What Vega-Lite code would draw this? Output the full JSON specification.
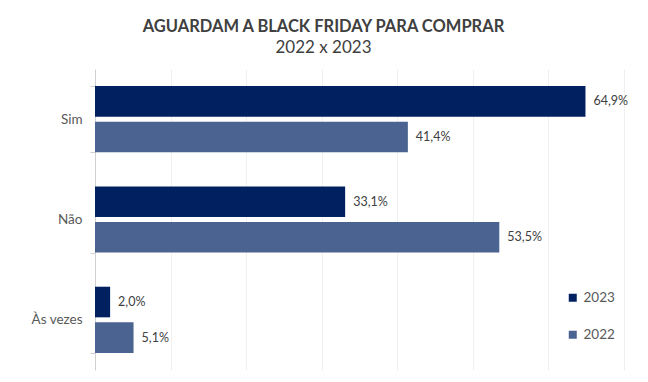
{
  "$schema": "https://vega.github.io/schema/vega-lite/v6.json",
  "autosize": {"type": "none"},
  "width": 529,
  "height": 301,
  "padding": {"left": 95, "top": 69, "right": 24, "bottom": 12},
  "background": "white",
  "title": {
    "text": "AGUARDAM A BLACK FRIDAY PARA COMPRAR",
    "subtitle": "2022 x 2023",
    "anchor": "middle",
    "dx": -36,
    "offset": 6,
    "font": "Lato",
    "fontSize": 16.5,
    "fontWeight": "bold",
    "color": "#404040",
    "subtitleFont": "Lato",
    "subtitleFontSize": 17,
    "subtitleColor": "#404040",
    "subtitlePadding": 5
  },
  "data": {
    "values": [
      {"resposta": "Sim", "ano": "2023", "valor": 0.649},
      {"resposta": "Sim", "ano": "2022", "valor": 0.414},
      {"resposta": "Não", "ano": "2023", "valor": 0.331},
      {"resposta": "Não", "ano": "2022", "valor": 0.535},
      {"resposta": "Às vezes", "ano": "2023", "valor": 0.020},
      {"resposta": "Às vezes", "ano": "2022", "valor": 0.051}
    ]
  },
  "encoding": {
    "y": {
      "field": "resposta",
      "type": "nominal",
      "sort": ["Sim", "Não", "Às vezes"],
      "scale": {"paddingInner": 0.34, "paddingOuter": 0.17},
      "axis": {
        "title": null,
        "domainColor": "#d0d0d0",
        "tickColor": "#d0d0d0",
        "tickBand": "extent",
        "tickSize": 5,
        "labelPadding": 8,
        "labelFont": "Lato",
        "labelFontSize": 13.5,
        "labelColor": "#595959"
      }
    },
    "yOffset": {
      "field": "ano",
      "sort": ["2023", "2022"],
      "scale": {"paddingInner": 0.14}
    },
    "x": {
      "field": "valor",
      "type": "quantitative",
      "scale": {"domain": [0, 0.7], "nice": false},
      "axis": {
        "title": null,
        "labels": false,
        "ticks": false,
        "domain": false,
        "grid": true,
        "gridColor": "#f0f0f0",
        "values": [0.1, 0.2, 0.3, 0.4, 0.5, 0.6, 0.7]
      }
    }
  },
  "layer": [
    {
      "mark": {"type": "bar"},
      "encoding": {
        "color": {
          "field": "ano",
          "type": "nominal",
          "scale": {"domain": ["2023", "2022"], "range": ["#00205f", "#4b6390"]},
          "legend": {
            "title": null,
            "orient": "none",
            "legendX": 471,
            "legendY": 222,
            "symbolType": "square",
            "symbolSize": 64,
            "symbolStrokeWidth": 0,
            "labelFont": "Lato",
            "labelFontSize": 13.5,
            "labelColor": "#595959",
            "labelOffset": 4,
            "rowPadding": 22
          }
        }
      }
    },
    {
      "mark": {"type": "text", "align": "left", "baseline": "middle", "dx": 8, "font": "Lato", "fontSize": 12.5, "color": "#404040"},
      "encoding": {
        "text": {"field": "valor", "type": "quantitative", "format": ".1%"}
      }
    }
  ],
  "config": {
    "locale": {"number": {"decimal": ",", "thousands": ".", "grouping": [3], "currency": ["R$", ""]}},
    "view": {"stroke": null}
  }
}
